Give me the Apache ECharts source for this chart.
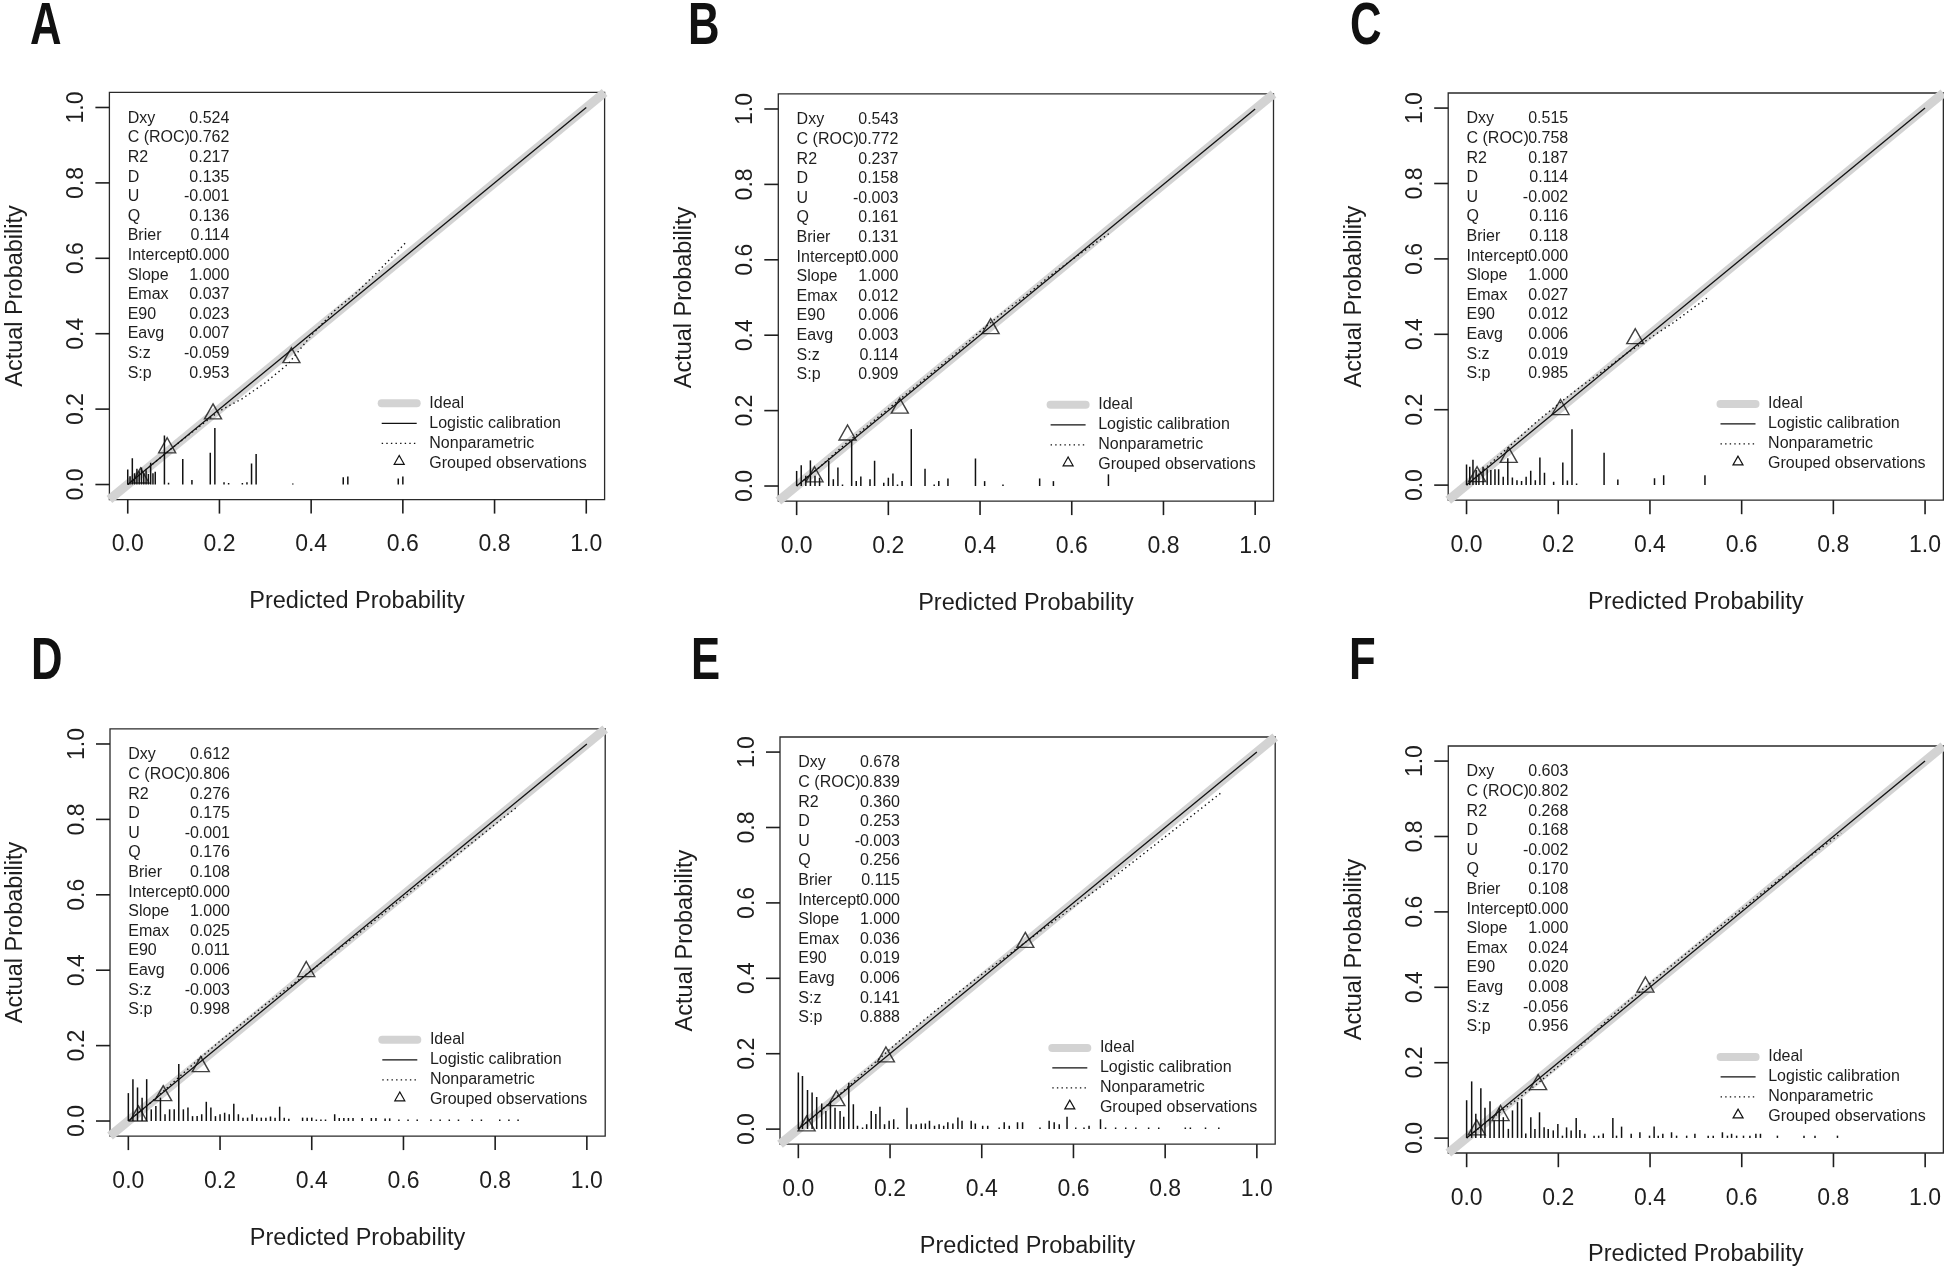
<!DOCTYPE html>
<html><head><meta charset="utf-8">
<script src="https://cdn.jsdelivr.net/npm/echarts@6/dist/echarts.min.js"></script>
<style>html,body{margin:0;padding:0;background:#fff}#c{width:1944px;height:1268px}</style>
</head><body><div id="c"></div>
<script>
// ---------- data ----------
const panelLabels = ['A', 'B', 'C', 'D', 'E', 'F'];
const axisTicks = [0, 0.2, 0.4, 0.6, 0.8, 1.0];
const statNames = ['Dxy', 'C (ROC)', 'R2', 'D', 'U', 'Q', 'Brier', 'Intercept', 'Slope', 'Emax', 'E90', 'Eavg', 'S:z', 'S:p'];
const statsA = ['0.524', '0.762', '0.217', '0.135', '-0.001', '0.136', '0.114', '0.000', '1.000', '0.037', '0.023', '0.007', '-0.059', '0.953'];
const statsB = ['0.543', '0.772', '0.237', '0.158', '-0.003', '0.161', '0.131', '0.000', '1.000', '0.012', '0.006', '0.003', '0.114', '0.909'];
const statsC = ['0.515', '0.758', '0.187', '0.114', '-0.002', '0.116', '0.118', '0.000', '1.000', '0.027', '0.012', '0.006', '0.019', '0.985'];
const statsD = ['0.612', '0.806', '0.276', '0.175', '-0.001', '0.176', '0.108', '0.000', '1.000', '0.025', '0.011', '0.006', '-0.003', '0.998'];
const statsE = ['0.678', '0.839', '0.360', '0.253', '-0.003', '0.256', '0.115', '0.000', '1.000', '0.036', '0.019', '0.006', '0.141', '0.888'];
const statsF = ['0.603', '0.802', '0.268', '0.168', '-0.002', '0.170', '0.108', '0.000', '1.000', '0.024', '0.020', '0.008', '-0.056', '0.956'];
const legendNames = ['Ideal', 'Logistic calibration', 'Nonparametric', 'Grouped observations'];

const axisRange = [-0.04, 1.04];
const idealLine = [[-0.04, -0.04], [1.04, 1.04]];
const logisticLine = [[0, 0], [1, 1]];

const nonparA = [[0,0],[0.05,0.05],[0.1,0.1],[0.15,0.148],[0.2,0.195],[0.25,0.228],[0.3,0.27],[0.35,0.32],[0.4,0.395],[0.45,0.46],[0.5,0.51],[0.55,0.57],[0.605,0.64]];
const nonparB = [[0,0],[0.05,0.05],[0.1,0.105],[0.15,0.155],[0.2,0.205],[0.25,0.255],[0.3,0.305],[0.35,0.355],[0.4,0.41],[0.45,0.46],[0.5,0.505],[0.55,0.555],[0.6,0.6],[0.65,0.643],[0.683,0.671]];
const nonparC = [[0,0],[0.05,0.055],[0.1,0.11],[0.15,0.165],[0.2,0.215],[0.25,0.262],[0.3,0.305],[0.35,0.35],[0.4,0.39],[0.45,0.43],[0.5,0.475],[0.526,0.497]];
const nonparD = [[0,0],[0.05,0.05],[0.1,0.105],[0.15,0.16],[0.2,0.212],[0.25,0.26],[0.3,0.31],[0.35,0.355],[0.4,0.4],[0.5,0.495],[0.6,0.593],[0.7,0.69],[0.8,0.787],[0.848,0.833]];
const nonparE = [[0,0],[0.05,0.05],[0.1,0.103],[0.15,0.158],[0.2,0.212],[0.25,0.265],[0.3,0.315],[0.35,0.363],[0.4,0.41],[0.45,0.455],[0.5,0.5],[0.6,0.59],[0.7,0.68],[0.8,0.775],[0.925,0.895]];
const nonparF = [[0,0],[0.05,0.048],[0.1,0.093],[0.15,0.14],[0.2,0.19],[0.25,0.245],[0.3,0.305],[0.35,0.36],[0.4,0.41],[0.5,0.51],[0.6,0.607],[0.7,0.703],[0.817,0.809]];

const groupedA = [[0.028,0.024],[0.086,0.104],[0.186,0.194],[0.357,0.343]];
const groupedB = [[0.039,0.031],[0.111,0.142],[0.225,0.213],[0.423,0.424]];
const groupedC = [[0.023,0.029],[0.092,0.080],[0.205,0.207],[0.368,0.395]];
const groupedD = [[0.022,0.020],[0.076,0.074],[0.158,0.151],[0.388,0.403]];
const groupedE = [[0.018,0.015],[0.083,0.082],[0.191,0.198],[0.495,0.502]];
const groupedF = [[0.022,0.028],[0.074,0.066],[0.156,0.148],[0.390,0.407]];

const histA = [[0.000,0.040],[0.005,0.022],[0.010,0.070],[0.015,0.030],[0.020,0.042],[0.025,0.035],[0.030,0.045],[0.035,0.030],[0.040,0.038],[0.045,0.028],[0.050,0.058],[0.055,0.030],[0.060,0.034],[0.080,0.130],[0.089,0.005],[0.120,0.068],[0.140,0.012],[0.180,0.084],[0.190,0.150],[0.210,0.006],[0.220,0.004],[0.250,0.004],[0.260,0.006],[0.270,0.056],[0.280,0.081],[0.360,0.003],[0.470,0.019],[0.480,0.021],[0.590,0.016],[0.600,0.021]];
const histB = [[0.000,0.040],[0.010,0.055],[0.020,0.027],[0.030,0.068],[0.040,0.027],[0.050,0.022],[0.070,0.067],[0.080,0.018],[0.090,0.049],[0.100,0.004],[0.120,0.120],[0.130,0.013],[0.140,0.025],[0.160,0.018],[0.170,0.067],[0.190,0.009],[0.200,0.022],[0.210,0.033],[0.220,0.004],[0.230,0.013],[0.250,0.151],[0.280,0.046],[0.300,0.004],[0.310,0.013],[0.330,0.020],[0.390,0.073],[0.410,0.013],[0.450,0.004],[0.530,0.020],[0.560,0.013],[0.680,0.031]];
const histC = [[0.000,0.055],[0.007,0.049],[0.014,0.067],[0.021,0.040],[0.027,0.031],[0.036,0.049],[0.045,0.042],[0.053,0.040],[0.062,0.042],[0.070,0.042],[0.080,0.022],[0.090,0.071],[0.100,0.020],[0.110,0.013],[0.120,0.011],[0.130,0.022],[0.140,0.038],[0.150,0.013],[0.160,0.073],[0.170,0.033],[0.190,0.009],[0.210,0.060],[0.220,0.012],[0.230,0.148],[0.240,0.004],[0.300,0.086],[0.330,0.015],[0.410,0.018],[0.430,0.026],[0.520,0.026]];
const histD = [[0.00,0.074],[0.01,0.111],[0.02,0.089],[0.03,0.062],[0.04,0.111],[0.05,0.031],[0.06,0.040],[0.07,0.062],[0.08,0.018],[0.09,0.031],[0.10,0.031],[0.11,0.151],[0.12,0.031],[0.13,0.036],[0.14,0.013],[0.15,0.013],[0.16,0.018],[0.17,0.051],[0.18,0.036],[0.19,0.013],[0.20,0.018],[0.21,0.022],[0.22,0.018],[0.23,0.046],[0.24,0.018],[0.25,0.009],[0.26,0.009],[0.27,0.018],[0.28,0.009],[0.29,0.009],[0.30,0.009],[0.31,0.012],[0.32,0.009],[0.33,0.038],[0.34,0.009],[0.35,0.006],[0.38,0.009],[0.39,0.009],[0.40,0.009],[0.41,0.004],[0.42,0.004],[0.43,0.004],[0.45,0.018],[0.46,0.008],[0.47,0.008],[0.48,0.008],[0.49,0.008],[0.51,0.008],[0.53,0.008],[0.54,0.008],[0.56,0.007],[0.57,0.007],[0.59,0.004],[0.61,0.004],[0.63,0.004],[0.66,0.004],[0.68,0.004],[0.70,0.004],[0.72,0.004],[0.75,0.004],[0.77,0.004],[0.81,0.004],[0.83,0.004],[0.85,0.004]];
const histE = [[0.000,0.150],[0.009,0.141],[0.020,0.104],[0.030,0.097],[0.040,0.085],[0.051,0.068],[0.060,0.048],[0.070,0.070],[0.080,0.057],[0.091,0.048],[0.099,0.033],[0.110,0.123],[0.120,0.066],[0.129,0.009],[0.140,0.004],[0.149,0.013],[0.159,0.048],[0.169,0.040],[0.178,0.059],[0.188,0.013],[0.198,0.022],[0.208,0.026],[0.217,0.004],[0.237,0.057],[0.246,0.013],[0.257,0.013],[0.268,0.015],[0.277,0.015],[0.286,0.022],[0.297,0.009],[0.307,0.013],[0.317,0.009],[0.326,0.018],[0.337,0.015],[0.348,0.031],[0.357,0.022],[0.377,0.022],[0.386,0.015],[0.402,0.009],[0.413,0.009],[0.438,0.004],[0.449,0.018],[0.460,0.009],[0.478,0.018],[0.489,0.018],[0.527,0.004],[0.547,0.022],[0.558,0.018],[0.569,0.013],[0.586,0.033],[0.605,0.004],[0.623,0.004],[0.634,0.009],[0.659,0.026],[0.670,0.004],[0.692,0.004],[0.714,0.004],[0.736,0.004],[0.764,0.004],[0.786,0.004],[0.844,0.004],[0.855,0.004],[0.888,0.004],[0.917,0.004]];
const histF = [[0.000,0.100],[0.011,0.150],[0.020,0.064],[0.031,0.132],[0.040,0.080],[0.051,0.097],[0.060,0.046],[0.071,0.080],[0.080,0.055],[0.091,0.024],[0.100,0.073],[0.111,0.095],[0.120,0.104],[0.129,0.012],[0.140,0.055],[0.149,0.024],[0.159,0.068],[0.169,0.028],[0.178,0.024],[0.189,0.020],[0.199,0.037],[0.209,0.006],[0.218,0.028],[0.228,0.020],[0.239,0.053],[0.247,0.021],[0.258,0.011],[0.278,0.006],[0.288,0.006],[0.298,0.012],[0.319,0.053],[0.327,0.006],[0.338,0.030],[0.359,0.011],[0.378,0.015],[0.399,0.006],[0.409,0.030],[0.418,0.006],[0.428,0.011],[0.447,0.015],[0.458,0.006],[0.480,0.006],[0.498,0.011],[0.527,0.006],[0.538,0.006],[0.558,0.015],[0.569,0.006],[0.578,0.011],[0.589,0.006],[0.604,0.006],[0.618,0.006],[0.631,0.011],[0.641,0.011],[0.678,0.006],[0.736,0.006],[0.760,0.006],[0.809,0.006]];

// ---------- layout ----------
const FONT = '"Liberation Sans", Arial, Helvetica, sans-serif';
const W = 495.2, H = 407.2, TICK = 14;
const layout = [
  {left: 109.4, top: 92.4}, {left: 778.3, top: 93.9}, {left: 1448.2, top: 93.0},
  {left: 110.0, top: 728.9}, {left: 780.0, top: 737.0}, {left: 1448.3, top: 746.0}
];
const letterPos = [[30, 28], [688, 28], [1350, 28], [31, 663], [691, 663], [1349, 663]];

const panels = [
  {stats: statsA, hist: histA, nonpar: nonparA, grouped: groupedA},
  {stats: statsB, hist: histB, nonpar: nonparB, grouped: groupedB},
  {stats: statsC, hist: histC, nonpar: nonparC, grouped: groupedC},
  {stats: statsD, hist: histD, nonpar: nonparD, grouped: groupedD},
  {stats: statsE, hist: histE, nonpar: nonparE, grouped: groupedE},
  {stats: statsF, hist: histF, nonpar: nonparF, grouped: groupedF}
];

const INK = '#1e1e1e';
const DOT = [1.4, 3.2];
const grids = [], xAxes = [], yAxes = [], series = [], graphics = [];
const frac = v => (v - axisRange[0]) / (axisRange[1] - axisRange[0]);

panels.forEach((p, i) => {
  const L = layout[i];
  grids.push({left: L.left, top: L.top, width: W, height: H, show: true,
    borderColor: '#2a2a2a', borderWidth: 1.3, backgroundColor: 'transparent'});
  const common = {
    gridIndex: i, type: 'value', min: axisRange[0], max: axisRange[1],
    axisLine: {show: false, onZero: false},
    splitLine: {show: false},
    axisTick: {show: false},
    nameLocation: 'middle',
    nameTextStyle: {fontSize: 23.5, color: INK, fontFamily: FONT}
  };
  xAxes.push(Object.assign({}, common, {
    position: 'bottom',
    axisLabel: {customValues: axisTicks, formatter: v => v.toFixed(1), margin: 34, fontSize: 23, color: INK, fontFamily: FONT},
    name: 'Predicted Probability', nameGap: 90
  }));
  yAxes.push(Object.assign({}, common, {
    position: 'left',
    axisLabel: {customValues: axisTicks, formatter: v => v.toFixed(1), margin: 21, rotate: 90, fontSize: 23, color: INK, fontFamily: FONT},
    name: 'Actual Probability', nameGap: 82
  }));

  series.push({type: 'line', xAxisIndex: i, yAxisIndex: i, data: idealLine, showSymbol: false, clip: true, silent: true, z: 1,
    lineStyle: {color: '#d3d3d3', width: 9, cap: 'butt'}});
  series.push({type: 'custom', xAxisIndex: i, yAxisIndex: i, data: p.hist, silent: true, z: 3, clip: true,
    renderItem: (params, api) => {
      const a = api.coord([api.value(0), 0]);
      const b = api.coord([api.value(0), api.value(1)]);
      return {type: 'line', shape: {x1: a[0], y1: a[1], x2: b[0], y2: b[1]}, style: {stroke: '#111', lineWidth: 1.5}};
    }});
  series.push({type: 'line', xAxisIndex: i, yAxisIndex: i, data: logisticLine, showSymbol: false, silent: true, z: 4,
    lineStyle: {color: '#111', width: 1.3}});
  series.push({type: 'line', xAxisIndex: i, yAxisIndex: i, data: p.nonpar, showSymbol: false, silent: true, z: 4,
    lineStyle: {color: '#111', width: 1.4, type: DOT}});
  series.push({type: 'scatter', xAxisIndex: i, yAxisIndex: i, data: p.grouped, symbol: 'triangle', symbolSize: [17, 15], silent: true, z: 5,
    itemStyle: {color: 'rgba(0,0,0,0)', borderColor: '#111', borderWidth: 1.4}});

  // panel letter
  graphics.push({type: 'text', x: letterPos[i][0], y: letterPos[i][1], scaleX: 0.74, silent: true,
    style: {text: panelLabels[i], font: 'bold 59px "Liberation Sans", Arial, sans-serif', fill: '#111', verticalAlign: 'middle'}});

  // axis ticks: outside the box (R style)
  const R = L.left + W, B = L.top + H;
  axisTicks.forEach(v => {
    const tx0 = L.left + W * frac(v);
    const ty0 = B - H * frac(v);
    graphics.push({type: 'rect', silent: true, z: 100, shape: {x: tx0 - 0.8, y: B, width: 1.6, height: TICK},
      style: {fill: INK}});
    graphics.push({type: 'rect', silent: true, z: 100, shape: {x: L.left - TICK, y: ty0 - 0.8, width: TICK, height: 1.6},
      style: {fill: INK}});
  });

  // stats block
  p.stats.forEach((v, k) => {
    const y = L.top + 26 + k * 19.6;
    graphics.push({type: 'text', x: L.left + 18.3, y: y, silent: true,
      style: {text: statNames[k], font: '16px ' + FONT, fill: INK, align: 'left', verticalAlign: 'middle'}});
    graphics.push({type: 'text', x: L.left + 120, y: y, silent: true,
      style: {text: v, font: '16px ' + FONT, fill: INK, align: 'right', verticalAlign: 'middle'}});
  });

  // legend
  const lx1 = R - 222.9, lx2 = R - 187.9, tx = R - 175.3;
  const rows = [B - 96.3, B - 76.3, B - 56.3, B - 36.3];
  graphics.push({type: 'line', silent: true, shape: {x1: lx1, y1: rows[0], x2: lx2, y2: rows[0]},
    style: {stroke: '#d3d3d3', lineWidth: 8, lineCap: 'round'}});
  graphics.push({type: 'line', silent: true, shape: {x1: lx1, y1: rows[1], x2: lx2, y2: rows[1]},
    style: {stroke: '#111', lineWidth: 1.3}});
  graphics.push({type: 'line', silent: true, shape: {x1: lx1, y1: rows[2], x2: lx2, y2: rows[2]},
    style: {stroke: '#111', lineWidth: 1.3, lineDash: DOT}});
  const cx = (lx1 + lx2) / 2, cy = rows[3] - 3;
  graphics.push({type: 'polygon', silent: true, shape: {points: [[cx, cy - 4.8], [cx - 5, cy + 4], [cx + 5, cy + 4]]},
    style: {fill: 'none', stroke: '#111', lineWidth: 1.2}});
  legendNames.forEach((n, k) => {
    graphics.push({type: 'text', x: tx, y: rows[k], silent: true,
      style: {text: n, font: '16px ' + FONT, fill: INK, align: 'left', verticalAlign: 'middle'}});
  });
});

const chart = echarts.init(document.getElementById('c'), null, {renderer: 'canvas', width: 1944, height: 1268});
chart.setOption({
  animation: false,
  backgroundColor: '#ffffff',
  textStyle: {fontFamily: FONT},
  grid: grids, xAxis: xAxes, yAxis: yAxes, series: series,
  graphic: graphics
});
</script></body></html>
